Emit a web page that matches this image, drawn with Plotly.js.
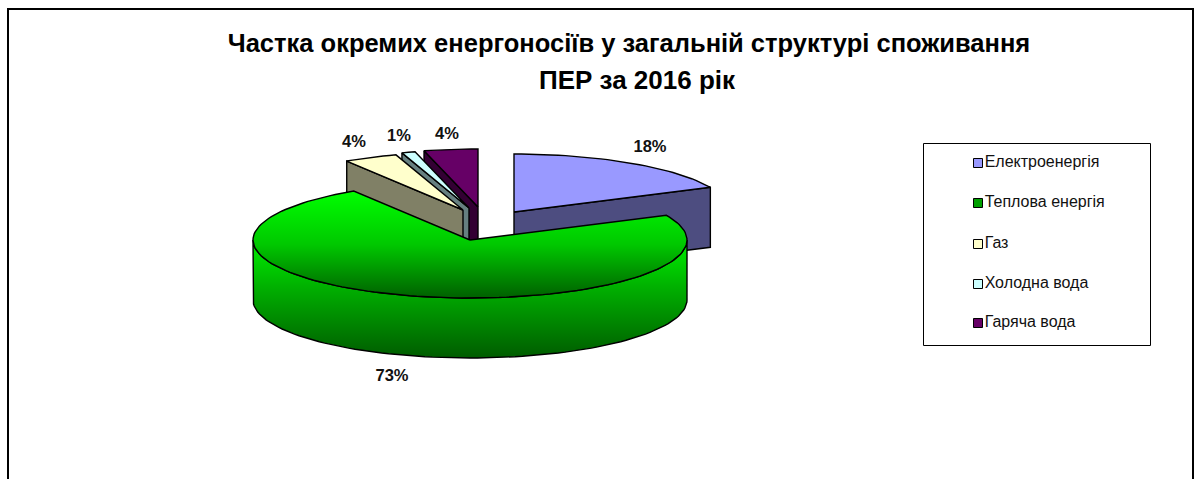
<!DOCTYPE html>
<html>
<head>
<meta charset="utf-8">
<script src="https://cdn.plot.ly/plotly-3.0.1.min.js"></script>
<style>html,body{margin:0;padding:0;background:#fff}#c{width:1194px;height:479px}</style>
</head>
<body>
<div id="c"></div>
<script>
var categories = ['Електроенергія', 'Теплова енергія', 'Газ', 'Холодна вода', 'Гаряча вода'];
var shares = [18, 73, 4, 1, 4];
var titleLines = ['Частка окремих енергоносіїв у загальній структурі споживання', 'ПЕР за 2016 рік'];

var topColors = ['#9999ff', null, '#ffffcc', '#ccffff', '#660066'];
var wallColors = ['#4d4d80', null, '#808066', '#668080', '#330033'];
var legendColors = ['#9999ff', '#00a000', '#ffffcc', '#ccffff', '#660066'];
var explodeX = [44, 0, -7, -1, 8];
var explodeY = [-28, 0, -30, -32, -33];
var labelX = [650, 392, 354, 399, 447];
var labelY = [148, 377, 143, 137, 135];
var legendY = [163, 203, 244, 284, 323];
var drawOrder = [0, 4, 3, 2, 1];

var CX = 470, CY = 240, RX = 217, RY = 58, DEPTH = 60;
var INK = '#000';
var FONT = 'Liberation Sans, Arial, sans-serif';

function pt(deg, i) {
  var r = deg * Math.PI / 180;
  return [CX + explodeX[i] + RX * Math.sin(r), CY + explodeY[i] - RY * Math.cos(r)];
}
function arc(a, b, i) {
  var out = [], n = Math.max(2, Math.ceil((b - a) / 2));
  for (var k = 0; k <= n; k++) out.push(pt(a + (b - a) * k / n, i));
  return out;
}
function poly(points, fill, gradient) {
  var t = {
    type: 'scatter', mode: 'lines', x: points.map(function (p) { return p[0]; }),
    y: points.map(function (p) { return p[1]; }), fill: 'toself',
    line: { color: INK, width: 1.4 }, hoverinfo: 'skip', showlegend: false
  };
  if (gradient) t.fillgradient = gradient; else t.fillcolor = fill;
  return t;
}
function drop(points) { return points.map(function (p) { return [p[0], p[1] + DEPTH]; }); }

var total = shares.reduce(function (a, b) { return a + b; }, 0);
var starts = [], run = 0;
shares.forEach(function (v) { starts.push(run); run += v / total * 360; });

var greenTop = { type: 'vertical', colorscale: [[0, '#006000'], [0.5, '#00c800'], [1, '#00ff00']] };
var greenWall = { type: 'vertical', colorscale: [[0, '#005c00'], [0.6, '#00b000'], [1, '#00f000']] };

var traces = [];
drawOrder.forEach(function (i) {
  var a = starts[i], b = a + shares[i] / total * 360;
  var apex = [CX + explodeX[i], CY + explodeY[i]];
  var wall = wallColors[i];
  function cut(deg) {
    var top = [apex, pt(deg, i)];
    traces.push(poly(top.concat(drop(top).reverse()).concat([apex]), wall));
  }
  if (Math.sin(a * Math.PI / 180) < -1e-6) cut(a);
  if (Math.sin(b * Math.PI / 180) > 1e-6) cut(b);
  var lo = Math.max(a, 90), hi = Math.min(b, 270);
  if (hi > lo) {
    var rim = arc(lo, hi, i);
    traces.push(poly(rim.concat(drop(rim).reverse()).concat([rim[0]]), wall, wall ? null : greenWall));
  }
  var top = [apex].concat(arc(a, b, i)).concat([apex]);
  traces.push(poly(top, topColors[i], topColors[i] ? null : greenTop));
});

traces.push({
  type: 'scatter', mode: 'text', x: labelX, y: labelY,
  text: shares.map(function (v) { return v + '%'; }),
  textfont: { family: FONT, size: 16.5, color: '#111', weight: 700 },
  textposition: 'middle center', hoverinfo: 'skip', showlegend: false
});
traces.push({
  type: 'scatter', mode: 'markers+text',
  x: categories.map(function () { return 978; }), y: legendY, text: categories,
  textposition: 'middle right',
  textfont: { family: FONT, size: 16, color: '#111' },
  marker: { symbol: 'square', size: 9, color: legendColors, line: { color: '#000', width: 1 } },
  hoverinfo: 'skip', showlegend: false
});

var layout = {
  width: 1194, height: 479, margin: { l: 0, r: 0, t: 0, b: 0 },
  paper_bgcolor: '#fff', plot_bgcolor: '#fff', showlegend: false,
  xaxis: { range: [0, 1194], visible: false, fixedrange: true },
  yaxis: { range: [479, 0], visible: false, fixedrange: true },
  title: {
    text: titleLines[0],
    x: 629 / 1194, xanchor: 'center', y: 1 - 43 / 479, yanchor: 'middle',
    font: { family: FONT, size: 25.5, color: '#000', weight: 700 }
  },
  annotations: [{
    text: titleLines[1], xref: 'x', yref: 'y', x: 637, y: 80, xanchor: 'center', yanchor: 'middle',
    showarrow: false, font: { family: FONT, size: 26, color: '#000', weight: 700 }
  }],
  shapes: [
    { type: 'rect', layer: 'below', xref: 'x', yref: 'y', x0: 8, x1: 1193, y0: 9, y1: 490, line: { color: '#000', width: 2 }, fillcolor: '#fff' },
    { type: 'rect', layer: 'below', xref: 'x', yref: 'y', x0: 923.5, x1: 1150.5, y0: 143.5, y1: 345.5, line: { color: '#000', width: 1 }, fillcolor: '#fff' }
  ]
};
Plotly.newPlot('c', traces, layout, { staticPlot: true, displayModeBar: false });
</script>
</body>
</html>
